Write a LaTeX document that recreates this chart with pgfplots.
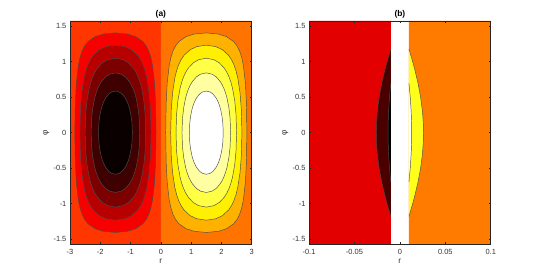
\documentclass[border=0pt]{standalone}
\usepackage{pgfplots}
\pgfplotsset{compat=1.18}
\usepackage{pgfplotstable}
\usepackage{fontspec}
\setmainfont{Liberation Sans}

\definecolor{hA}{HTML}{0B0000}
\definecolor{hB}{HTML}{3E0000}
\definecolor{hC}{HTML}{7C0000}
\definecolor{hD}{HTML}{B90000}
\definecolor{hE}{HTML}{F70000}
\definecolor{hF}{HTML}{FF3600}
\definecolor{hG}{HTML}{FF7400}
\definecolor{hH}{HTML}{FFB100}
\definecolor{hI}{HTML}{FFEF00}
\definecolor{hJ}{HTML}{FFFF46}
\definecolor{hK}{HTML}{FFFFA2}
\definecolor{hL}{HTML}{FFFFFF}
\definecolor{bRed}{HTML}{E30000}
\definecolor{bDark}{HTML}{4B0000}
\definecolor{bBlack}{HTML}{050000}
\definecolor{bOrange}{HTML}{FF7B00}
\definecolor{bYellow}{HTML}{FFFF1C}

% contour levels 1/6 ... 5/6 of the right lobe (r, phi)
\pgfplotstableread{
r p
0.1599 0
0.1750 0.4172
0.2099 0.7008
0.2763 0.9469
0.3326 1.0606
0.4016 1.1503
0.4872 1.2225
0.5958 1.2815
0.8308 1.3510
1.1016 1.3875
1.5 1.4033
1.8984 1.3875
2.1692 1.3510
2.4042 1.2815
2.5128 1.2225
2.5984 1.1503
2.6674 1.0606
2.7237 0.9469
2.7901 0.7008
2.8250 0.4172
2.8401 0
2.8250 -0.4172
2.7901 -0.7008
2.7237 -0.9469
2.6674 -1.0606
2.5984 -1.1503
2.5128 -1.2225
2.4042 -1.2815
2.1692 -1.3510
1.8984 -1.3875
1.5 -1.4033
1.1016 -1.3875
0.8308 -1.3510
0.5958 -1.2815
0.4872 -1.2225
0.4016 -1.1503
0.3326 -1.0606
0.2763 -0.9469
0.2099 -0.7008
0.1750 -0.4172
0.1599 0
}\cA
\pgfplotstableread{
r p
0.3245 0
0.3437 0.3284
0.3857 0.5585
0.4602 0.7681
0.5192 0.8706
0.5877 0.9553
0.6687 1.0271
0.7665 1.0889
0.9667 1.1669
1.1864 1.2109
1.5 1.2310
1.8136 1.2109
2.0333 1.1669
2.2335 1.0889
2.3313 1.0271
2.4123 0.9553
2.4808 0.8706
2.5398 0.7681
2.6143 0.5585
2.6563 0.3284
2.6755 0
2.6563 -0.3284
2.6143 -0.5585
2.5398 -0.7681
2.4808 -0.8706
2.4123 -0.9553
2.3313 -1.0271
2.2335 -1.0889
2.0333 -1.1669
1.8136 -1.2109
1.5 -1.2310
1.1864 -1.2109
0.9667 -1.1669
0.7665 -1.0889
0.6687 -1.0271
0.5877 -0.9553
0.5192 -0.8706
0.4602 -0.7681
0.3857 -0.5585
0.3437 -0.3284
0.3245 0
}\cB
\pgfplotstableread{
r p
0.5000 0
0.5196 0.2617
0.5616 0.4482
0.6332 0.6228
0.6880 0.7108
0.7500 0.7854
0.8212 0.8503
0.9053 0.9077
1.0720 0.9827
1.2501 1.0267
1.5 1.0472
1.7499 1.0267
1.9280 0.9827
2.0947 0.9077
2.1788 0.8503
2.2500 0.7854
2.3120 0.7108
2.3668 0.6228
2.4384 0.4482
2.4804 0.2617
2.5000 0
2.4804 -0.2617
2.4384 -0.4482
2.3668 -0.6228
2.3120 -0.7108
2.2500 -0.7854
2.1788 -0.8503
2.0947 -0.9077
1.9280 -0.9827
1.7499 -1.0267
1.5 -1.0472
1.2501 -1.0267
1.0720 -0.9827
0.9053 -0.9077
0.8212 -0.8503
0.7500 -0.7854
0.6880 -0.7108
0.6332 -0.6228
0.5616 -0.4482
0.5196 -0.2617
0.5000 0
}\cC
\pgfplotstableread{
r p
0.6968 0
0.7145 0.2007
0.7518 0.3453
0.8141 0.4833
0.8606 0.5543
0.9122 0.6155
0.9707 0.6696
1.0385 0.7183
1.1703 0.7835
1.3083 0.8226
1.5 0.8411
1.6917 0.8226
1.8297 0.7835
1.9615 0.7183
2.0293 0.6696
2.0878 0.6155
2.1394 0.5543
2.1859 0.4833
2.2482 0.3453
2.2855 0.2007
2.3032 0
2.2855 -0.2007
2.2482 -0.3453
2.1859 -0.4833
2.1394 -0.5543
2.0878 -0.6155
2.0293 -0.6696
1.9615 -0.7183
1.8297 -0.7835
1.6917 -0.8226
1.5 -0.8411
1.3083 -0.8226
1.1703 -0.7835
1.0385 -0.7183
0.9707 -0.6696
0.9122 -0.6155
0.8606 -0.5543
0.8141 -0.4833
0.7518 -0.3453
0.7145 -0.2007
0.6968 0
}\cD
\pgfplotstableread{
r p
0.9407 0
0.9541 0.1348
0.9820 0.2328
1.0277 0.3277
1.0614 0.3773
1.0985 0.4205
1.1397 0.4593
1.1871 0.4946
1.2777 0.5425
1.3713 0.5717
1.5 0.5857
1.6287 0.5717
1.7223 0.5425
1.8129 0.4946
1.8603 0.4593
1.9015 0.4205
1.9386 0.3773
1.9723 0.3277
2.0180 0.2328
2.0459 0.1348
2.0593 0
2.0459 -0.1348
2.0180 -0.2328
1.9723 -0.3277
1.9386 -0.3773
1.9015 -0.4205
1.8603 -0.4593
1.8129 -0.4946
1.7223 -0.5425
1.6287 -0.5717
1.5 -0.5857
1.3713 -0.5717
1.2777 -0.5425
1.1871 -0.4946
1.1397 -0.4593
1.0985 -0.4205
1.0614 -0.3773
1.0277 -0.3277
0.9820 -0.2328
0.9541 -0.1348
0.9407 0
}\cE
% panel (b): outer and inner bulges next to r = 0.01 (right side)
\pgfplotstableread{
r p
0.0100 1.176
0.01062 1.15
0.01179 1.1
0.01405 1.0
0.01616 0.9
0.01989 0.7
0.02282 0.5
0.02484 0.3
0.02571 0.15
0.02600 0
0.02571 -0.15
0.02484 -0.3
0.02282 -0.5
0.01989 -0.7
0.01616 -0.9
0.01405 -1.0
0.01179 -1.1
0.01062 -1.15
0.0100 -1.176
}\bOut
\pgfplotstableread{
r p
0.0100 0.693
0.01141 0.5
0.01242 0.3
0.01285 0.15
0.01300 0
0.01285 -0.15
0.01242 -0.3
0.01141 -0.5
0.0100 -0.693
}\bIn

\pgfplotsset{
  hotax/.style={
    scale only axis, width=136.3pt, height=167.5pt,
    anchor=south west,
    axis on top,
    ymin=-1.5708, ymax=1.5708,
    ytick={-1.5,-1,-0.5,0,0.5,1,1.5},
    yticklabels={-1.5,-1,-0.5,0,0.5,1,1.5},
    tick align=inside,
    major tick length=1.6pt,
    tick style={color=black!85, line width=0.4pt},
    axis line style={color=black!85, line width=0.4pt},
    every tick label/.append style={font=\fontsize{5.6}{6}\selectfont, text=black!80, inner sep=0pt},
    xticklabel style={anchor=center, yshift=-5.8pt},
    yticklabel style={anchor=east, xshift=-2.5pt},
    xlabel={r},
    ylabel={φ},
    every axis x label/.style={at={(axis description cs:0.5,0)}, anchor=center, yshift=-13pt, font=\fontsize{6.2}{7}\selectfont, text=black!80},
    every axis y label/.style={at={(axis description cs:0,0.5)}, xshift=-17.8pt, rotate=90, anchor=center, font=\fontsize{6.2}{7}\selectfont, text=black!80},
    every axis title/.style={at={(axis description cs:0.5,1)}, anchor=center, yshift=4.7pt, font=\bfseries\fontsize{6.3}{7}\selectfont},
  },
  cl/.style={draw=black!70, line width=0.35pt, line join=round},
}

\begin{document}
\begin{tikzpicture}
\useasboundingbox (0,0) rectangle (405.75pt,206.25pt);

\begin{axis}[hotax, at={(52.5pt,23pt)}, xmin=-3, xmax=3,
  xtick={-3,-2,-1,0,1,2,3}, xticklabels={-3,-2,-1,0,1,2,3}, title={(a)}]
\addplot[fill=hF, draw=none] coordinates {(-3,-1.5708) (0,-1.5708) (0,1.5708) (-3,1.5708) (-3,-1.5708)};
\addplot[fill=hG, draw=none] coordinates {(0,-1.5708) (3,-1.5708) (3,1.5708) (0,1.5708) (0,-1.5708)};
\addplot[cl, fill=hE] table[x expr=-\thisrow{r}, y=p] {\cA};
\addplot[cl, fill=hD] table[x expr=-\thisrow{r}, y=p] {\cB};
\addplot[cl, fill=hC] table[x expr=-\thisrow{r}, y=p] {\cC};
\addplot[cl, fill=hB] table[x expr=-\thisrow{r}, y=p] {\cD};
\addplot[cl, fill=hA] table[x expr=-\thisrow{r}, y=p] {\cE};
\addplot[cl, fill=hH] table[x=r, y=p] {\cA};
\addplot[cl, fill=hI] table[x=r, y=p] {\cB};
\addplot[cl, fill=hJ] table[x=r, y=p] {\cC};
\addplot[cl, fill=hK] table[x=r, y=p] {\cD};
\addplot[cl, fill=hL] table[x=r, y=p] {\cE};
\end{axis}

\begin{axis}[hotax, at={(231.75pt,23pt)}, xmin=-0.1, xmax=0.1,
  xtick={-0.1,-0.05,0,0.05,0.1}, xticklabels={-0.1,-0.05,0,0.05,0.1}, title={(b)}]
\addplot[fill=bRed, draw=none] coordinates {(-0.1,-1.5708) (-0.01,-1.5708) (-0.01,1.5708) (-0.1,1.5708) (-0.1,-1.5708)};
\addplot[fill=bOrange, draw=none] coordinates {(0.01,-1.5708) (0.1,-1.5708) (0.1,1.5708) (0.01,1.5708) (0.01,-1.5708)};
\addplot[fill=bDark, draw=none] table[x expr=-\thisrow{r}, y=p] {\bOut};
\addplot[cl] table[x expr=-\thisrow{r}, y=p] {\bOut};
\addplot[fill=bBlack, draw=none] table[x expr=-\thisrow{r}, y=p] {\bIn};
\addplot[cl] table[x expr=-\thisrow{r}, y=p] {\bIn};
\addplot[fill=bYellow, draw=none] table[x=r, y=p] {\bOut};
\addplot[cl] table[x=r, y=p] {\bOut};
\addplot[fill=white, draw=none] table[x=r, y=p] {\bIn};
\addplot[cl] table[x=r, y=p] {\bIn};
\end{axis}
\end{tikzpicture}
\end{document}
